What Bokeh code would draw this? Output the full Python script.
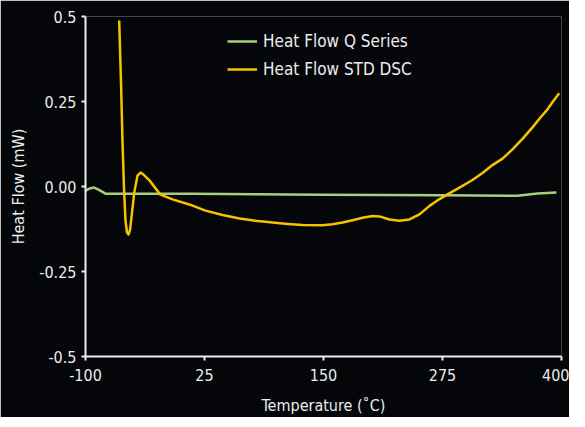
from bokeh.plotting import figure
from bokeh.models import Legend, LegendItem, FixedTicker, Range1d
from bokeh.embed import file_html
from bokeh.resources import INLINE

# Data
q_temp = [-100, -95.8, -90.9, -86.3, -79, 12.4, 149, 275, 353.8, 374.8, 394.7]
q_flow = [-0.012, -0.006, -0.003, -0.009, -0.021, -0.0215, -0.024, -0.026, -0.027, -0.0206, -0.0176]

std_temp = [-64.6, -62.7, -61.1, -59.6, -58, -56.4, -54.8, -53.3, -51.7, -48.8, -45.4, -42.2,
            -39.1, -32.8, -21.2, -8.6, 12.4, 26.1, 43.9, 61.8, 78.6, 96.4, 112.2, 127.9,
            149.0, 159.5, 170.0, 180.5, 191.0, 201.5, 208.8, 219.3, 229.8, 240.3, 250.8, 261.4,
            271.9, 280.3, 296.0, 306.5, 317.0, 327.5, 338.0, 348.5, 359.0, 369.5, 377.9, 385.3,
            391.6, 397.6]
std_flow = [0.488, 0.306, 0.129, -0.003, -0.1, -0.135, -0.141, -0.129, -0.091, -0.018, 0.032, 0.041,
            0.035, 0.018, -0.024, -0.038, -0.056, -0.071, -0.084, -0.094, -0.101, -0.106, -0.110, -0.113,
            -0.114, -0.111, -0.106, -0.099, -0.092, -0.087, -0.088, -0.097, -0.101, -0.097, -0.082, -0.057,
            -0.037, -0.023, 0.002, 0.019, 0.040, 0.063, 0.082, 0.109, 0.140, 0.174, 0.203, 0.227,
            0.252, 0.274]

x_ticks = [-100, 25, 150, 275, 400]
x_tick_labels = {-100: "-100", 25: "25", 150: "150", 275: "275", 400: "400"}
y_ticks = [-0.5, -0.25, 0, 0.25, 0.5]
y_tick_labels = {-0.5: "-0.5", -0.25: "-0.25", 0: "0.00", 0.25: "0.25", 0.5: "0.5"}

FONT = "'DejaVu Sans Condensed', 'Liberation Sans', sans-serif"
BG = "#04060a"
FG = "#ececec"

p = figure(frame_width=476, frame_height=340, output_backend="svg", toolbar_location=None,
           x_range=Range1d(-100, 400), y_range=Range1d(-0.5, 0.5),
           min_border_left=85, min_border_top=16, min_border_right=8, min_border_bottom=55)
p.background_fill_color = BG
p.border_fill_color = BG
p.outline_line_color = None
p.xgrid.visible = False
p.ygrid.visible = False

for ax in (p.xaxis[0], p.yaxis[0]):
    ax.axis_line_color = FG
    ax.axis_line_width = 2
    ax.major_tick_line_color = FG
    ax.major_tick_line_width = 2
    ax.major_tick_out = 4
    ax.major_tick_in = 0
    ax.minor_tick_line_color = None
    ax.major_label_text_color = FG
    ax.major_label_text_font = FONT
    ax.major_label_text_font_size = "16px"
    ax.axis_label_text_color = FG
    ax.axis_label_text_font = FONT
    ax.axis_label_text_font_size = "16px"
    ax.axis_label_text_font_style = "normal"

p.xaxis[0].ticker = FixedTicker(ticks=x_ticks)
p.xaxis[0].major_label_overrides = x_tick_labels
p.yaxis[0].ticker = FixedTicker(ticks=y_ticks)
p.yaxis[0].major_label_overrides = y_tick_labels
p.xaxis[0].major_label_standoff = 8
p.yaxis[0].major_label_standoff = 5
p.xaxis[0].axis_label = "Temperature (˚C)"
p.yaxis[0].axis_label = "Heat Flow (mW)"
p.xaxis[0].axis_label_standoff = 12
p.yaxis[0].axis_label_standoff = 8

r1 = p.line(q_temp, q_flow, line_color="#a6cf7c", line_width=2.5)
r2 = p.line(std_temp, std_flow, line_color="#f7c200", line_width=2.5, line_join="round")

legend = Legend(items=[LegendItem(label="Heat Flow Q Series", renderers=[r1]),
                       LegendItem(label="Heat Flow STD DSC", renderers=[r2])],
                location=(142, 277))
legend.background_fill_alpha = 0
legend.border_line_color = None
legend.label_text_color = FG
legend.label_text_font = FONT
legend.label_text_font_size = "17px"
legend.glyph_width = 30
legend.glyph_height = 20
legend.label_height = 20
legend.label_standoff = 6
legend.spacing = 8
legend.padding = 0
legend.margin = 0
p.add_layout(legend, "center")

open("out.html", "w").write(file_html(p, INLINE))
